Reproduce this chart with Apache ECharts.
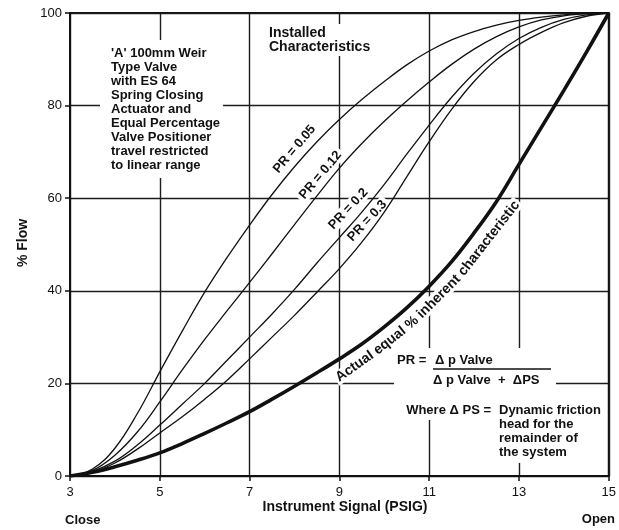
<!DOCTYPE html>
<html><head><meta charset="utf-8">
<script src="https://cdn.jsdelivr.net/npm/echarts@6/dist/echarts.min.js"></script>
<style>html,body{margin:0;padding:0;background:#fff}#c{width:619px;height:530px}</style>
</head><body><div id="c"></div>
<script>
// Instrument signal (PSIG)
const signal = [3,3.5,4,4.5,5,5.5,6,6.5,7,7.5,8,8.5,9,9.5,10,10.5,11,11.5,12,12.5,13,13.5,14,14.5,15];
// % Flow, installed characteristics
const pr005 = [0,1.5,6,13.5,22.5,31.3,39.7,47.2,54.2,60.8,66.8,72.2,77,81.3,85.2,88.8,91.8,94.2,96,97.4,98.4,99.1,99.6,99.9,100];
const pr012 = [0,1.2,4.5,9.5,16,22.9,29.5,35.7,41.8,48,54.3,60.5,66.5,71.8,76.6,81,85.1,88.9,92.2,94.9,97,98.5,99.4,99.85,100];
const pr02  = [0,1,3.2,6.7,11,15.5,20,25,30,35,40.3,46,51.5,57,63,69.5,75.8,81.8,87,91.2,94.5,96.9,98.6,99.6,100];
const pr03  = [0,0.8,2.8,5.8,9.3,12.8,16.6,20.7,25.3,30,34.7,39.7,44.8,50.5,57,64.6,72.2,79.2,85.2,89.9,93.2,95.8,97.9,99.3,100];
// Actual equal % inherent characteristic
const inherent = [0,0.8,2,3.4,5,7,9.2,11.5,13.9,16.6,19.4,22.3,25.3,28.5,32.2,36.3,41,46.3,52.5,59.3,67.3,75.3,83.3,91.5,100];
const xTicks = [3,5,7,9,11,13,15];
const yTicks = [0,20,40,60,80,100];

const FONT = "'Liberation Sans', Arial, sans-serif";
const INK = '#111';
function pairs(ys){ return signal.map((x,i)=>[x,ys[i]]); }
function lineSeries(name, ys, w){
  return {name, type:'line', data:pairs(ys), smooth:0.4, showSymbol:false, z:3,
    lineStyle:{color:INK, width:w}, emphasis:{disabled:true}};
}
const chart = echarts.init(document.getElementById('c'), null, {renderer:'canvas'});
chart.setOption({
  backgroundColor:'#fff',
  animation:false,
  grid:{left:70, right:7, top:13, bottom:54, containLabel:false, show:true, borderColor:INK, borderWidth:2, backgroundColor:'transparent'},
  xAxis:{type:'value', min:xTicks[0], max:xTicks[xTicks.length-1], interval:xTicks[1]-xTicks[0],
    axisLine:{show:true, onZero:false, lineStyle:{color:INK, width:2}},
    axisTick:{show:true, length:5, inside:false, lineStyle:{color:INK, width:1.5}},
    axisLabel:{color:INK, fontSize:13, fontFamily:FONT, margin:10},
    splitLine:{show:true, lineStyle:{color:'#1c1c1c', width:1.4}}},
  yAxis:{type:'value', min:yTicks[0], max:yTicks[yTicks.length-1], interval:yTicks[1]-yTicks[0],
    axisLine:{show:true, lineStyle:{color:INK, width:2}},
    axisTick:{show:true, length:5, lineStyle:{color:INK, width:1.5}},
    axisLabel:{color:INK, fontSize:13, fontFamily:FONT, margin:8},
    splitLine:{show:true, lineStyle:{color:'#1c1c1c', width:1.4}}},
  series:[
    lineSeries('PR = 0.05', pr005, 1.3),
    lineSeries('PR = 0.12', pr012, 1.3),
    lineSeries('PR = 0.2', pr02, 1.3),
    lineSeries('PR = 0.3', pr03, 1.3),
    lineSeries('Actual equal % inherent characteristic', inherent, 3.6)
  ]
});

function txt(text, x, y, o){
  o = o||{};
  return {type:'text', x, y, rotation:o.rot||0, z:o.z||1, silent:true,
    style:{text, fill:INK, font:(o.weight||'bold')+' '+(o.size||13)+'px '+FONT,
      align:o.align||'left', verticalAlign:o.va||'middle', lineHeight:o.lh||14,
      backgroundColor:o.bg, padding:o.pad}};
}
const deg = d => d*Math.PI/180;
const P = (x,y) => chart.convertToPixel({gridIndex:0},[x,y]);
const rotLabel = (text, dx, dy, a, size) => { const p = P(dx,dy); return txt(text, p[0], p[1], {align:'center', rot:deg(a), bg:'#fff', pad:[0,3], size:size||13}); };

// curved label along the inherent characteristic, word by word
const ctx = document.createElement('canvas').getContext('2d');
function curvedLabel(words, angles, startData, size){
  const f = 'bold '+size+'px '+FONT; ctx.font = f;
  const sp = ctx.measureText(' ').width;
  let [cx, cy] = P(startData[0], startData[1]);
  const out = [];
  words.forEach((w,i)=>{
    const a = deg(angles[i]); const wd = ctx.measureText(w).width;
    const dx = Math.cos(a), dy = -Math.sin(a);
    out.push(txt(w, cx+dx*wd/2, cy+dy*wd/2, {align:'center', rot:a, bg:'#fff', pad:[0,2], size}));
    const a2 = i<angles.length-1 ? deg((angles[i]+angles[i+1])/2) : a;
    cx += dx*wd + Math.cos(a2)*sp; cy += dy*wd - Math.sin(a2)*sp;
  });
  return out;
}

const g = [
  // axis titles
  txt('% Flow', 23, 243, {align:'center', rot:deg(90), size:14}),
  txt('Instrument Signal (PSIG)', 345, 507, {align:'center', size:14}),
  txt('Close', 65, 520, {size:13}),
  txt('Open', 615, 519, {align:'right', size:13}),
  // annotation block
  txt("'A' 100mm Weir\nType Valve\nwith ES 64\nSpring Closing\nActuator and\nEqual Percentage\nValve Positioner\ntravel restricted\nto linear range", 100, 40,
      {va:'top', bg:'#fff', pad:[6,3,6,11], size:13}),
  txt('Installed\nCharacteristics', 266, 24, {va:'top', bg:'#fff', pad:[2,3,2,3], size:14}),
  // curve labels
  rotLabel('PR = 0.05', 8.0, 70.6, 50),
  rotLabel('PR = 0.12', 8.58, 65.0, 50),
  rotLabel('PR = 0.2', 9.2, 57.7, 47),
  rotLabel('PR = 0.3', 9.62, 55.1, 47),
  ...curvedLabel(['Actual','equal','%','inherent','characteristic'], [35,38,41,45,52], [8.95, 21.0], 14),
  // formula
  {type:'rect', shape:{x:394, y:348, width:162, height:55}, style:{fill:'#fff'}, z:1, silent:true},
  {type:'rect', shape:{x:496, y:388, width:110, height:75}, style:{fill:'#fff'}, z:1, silent:true},
  txt('PR =', 397, 360, {z:2}),
  txt('\u0394 p Valve', 435, 360, {z:2}),
  {type:'line', shape:{x1:433, y1:369, x2:551, y2:369}, style:{stroke:INK, lineWidth:1.5}, z:2, silent:true},
  txt('\u0394 p Valve  +  \u0394PS', 433, 380, {z:2}),
  txt('Where \u0394 PS =', 494, 410, {align:'right', bg:'#fff', pad:[3,3,3,3], z:2}),
  txt('Dynamic friction\nhead for the\nremainder of\nthe system', 499, 403, {va:'top', z:2})
];
chart.setOption({graphic:{elements:g}});
</script></body></html>
